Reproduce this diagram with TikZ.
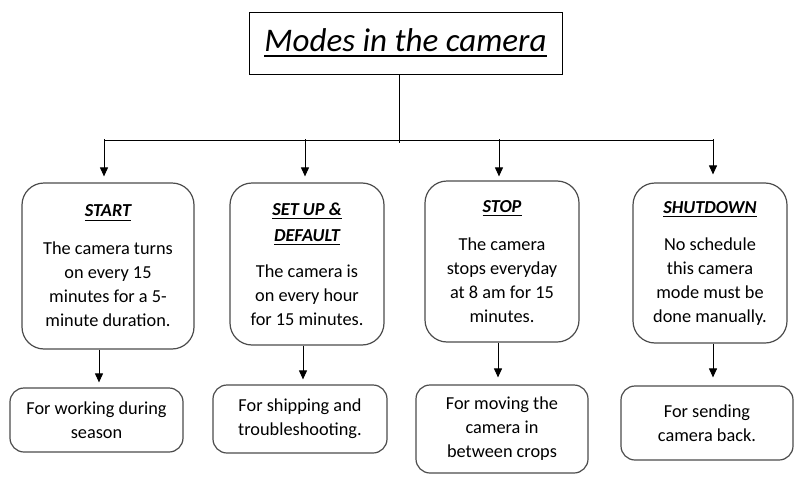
\documentclass[tikz,border=0pt]{standalone}
\usepackage{fontspec}
\setmainfont{Carlito}
\usetikzlibrary{arrows.meta}
\newcommand\myul[3]{\sbox0{#3}\rlap{\rule[-#2]{\wd0}{#1}}\usebox0}
\begin{document}
\begin{tikzpicture}[x=1pt,y=-1pt,
  mode/.style={draw=black!70, line width=1.2pt, rounded corners=22pt, align=center, inner sep=0pt, font=\fontsize{18.3}{24}\selectfont},
  note/.style={draw=black!70, line width=1.2pt, rounded corners=14pt, align=center, inner sep=0pt, font=\fontsize{18.3}{24}\selectfont},
  arr/.style={line width=1pt, -{Triangle[width=8pt,length=9pt]}},
  link/.style={line width=1pt}]
\fill[white] (0,0) rectangle (804,482);
\useasboundingbox (0,0) rectangle (804,482);

\node[draw, line width=1pt, minimum width=313pt, minimum height=62pt, inner sep=0pt,
      font=\fontsize{33}{40}\selectfont\itshape] (title) at (405.5,43)
      {\myul{2pt}{6pt}{Modes in the camera}};

\node[mode, minimum width=172pt, minimum height=166pt] (start) at (108,266)
  {\myul{1.2pt}{4pt}{\bfseries\itshape START}\\[14pt]The camera turns\\on every 15\\minutes for a 5-\\minute duration.};
\node[mode, minimum width=154pt, minimum height=162pt] (setup) at (307,264)
  {\myul{1.2pt}{4pt}{\bfseries\itshape SET UP \&}\\[2pt]\myul{1.2pt}{4pt}{\bfseries\itshape DEFAULT}\\[12pt]The camera is\\on every hour\\for 15 minutes.};
\node[mode, minimum width=154pt, minimum height=161pt] (stop) at (502,261.5)
  {\myul{1.2pt}{4pt}{\bfseries\itshape STOP}\\[14pt]The camera\\stops everyday\\at 8 am for 15\\minutes.};
\node[mode, minimum width=154pt, minimum height=160pt] (shut) at (710,263)
  {\myul{1.2pt}{4pt}{\bfseries\itshape SHUTDOWN}\\[13pt]No schedule\\this camera\\mode must be\\done manually.};

\node[note, minimum width=173pt, minimum height=64pt] (b1) at (96.5,420)
  {For working during\\season};
\node[note, minimum width=174pt, minimum height=68pt] (b2) at (300,419)
  {For shipping and\\troubleshooting.};
\node[note, minimum width=172pt, minimum height=88pt] (b3) at (502,429)
  {For moving the\\camera in\\between crops};
\node[note, minimum width=172pt, minimum height=74pt] (b4) at (707,423)
  {For sending\\camera back.};

\coordinate (tl) at (399,143);
\coordinate (bL) at (104,140);
\coordinate (bR) at (713,140);
\draw[link] (title.south -| tl) -- (tl);
\draw[link] (bL) -- (bR);

\coordinate (t1) at (104,139);
\coordinate (t2) at (305,139);
\coordinate (t3) at (499,139);
\coordinate (t4) at (713,139);
\draw[arr, shorten >=6pt] (t1) -- (t1 |- start.north);
\draw[arr, shorten >=6pt] (t2) -- (t2 |- setup.north);
\draw[arr, shorten >=4pt] (t3) -- (t3 |- stop.north);
\draw[arr, shorten >=8pt] (t4) -- (t4 |- shut.north);

\coordinate (u1) at (99,0);
\coordinate (u2) at (303,0);
\coordinate (u3) at (498,0);
\coordinate (u4) at (713,0);
\draw[arr, shorten >=5pt] (start.south -| u1) -- (b1.north -| u1);
\draw[arr, shorten >=5pt] (setup.south -| u2) -- (b2.north -| u2);
\draw[arr, shorten >=7pt] (stop.south -| u3) -- (b3.north -| u3);
\draw[arr, shorten >=8pt] (shut.south -| u4) -- (b4.north -| u4);
\end{tikzpicture}
\end{document}
